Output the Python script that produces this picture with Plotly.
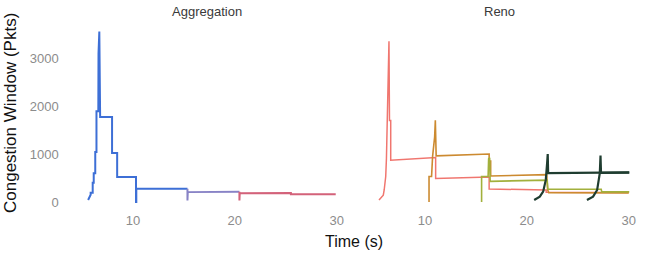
import plotly.graph_objects as go

# ---------------- data ----------------
# Aggregation panel (three colour segments of the aggregate cwnd)
agg1_t = [5.6, 5.85, 5.85, 6.05, 6.05, 6.15, 6.15, 6.3, 6.3, 6.42, 6.42, 6.6, 6.62, 6.7, 6.78,
          7.95, 7.95, 8.45, 8.45, 10.3, 10.3, 10.33, 10.33, 15.35]
agg1_v = [40, 150, 190, 190, 400, 400, 600, 600, 1040, 1040, 1890, 1890, 3100, 3550, 1770,
          1770, 1020, 1020, 520, 520, 0, 0, 275, 275]
agg2_t = [15.35, 15.35, 15.38, 15.38, 20.45]
agg2_v = [275, 30, 30, 205, 215]
agg3_t = [20.45, 20.45, 20.48, 20.48, 25.5, 25.5, 29.9]
agg3_v = [215, 30, 30, 180, 185, 160, 160]

# Reno panel: five flows
f1_t = [5.49, 5.91, 6.0, 6.15, 6.22, 6.30, 6.47, 6.52, 6.64, 6.64, 11.05, 11.05, 16.3, 16.3, 21.9, 21.9, 30.0]
f1_v = [40, 140, 250, 530, 900, 1670, 3350, 1700, 1700, 870, 925, 490, 520, 270, 250, 200, 195]
f2_t = [10.4, 10.4, 10.65, 10.75, 10.95, 11.02, 11.1, 16.3, 16.3, 16.45, 16.45, 21.95, 22.05, 22.15, 30.0]
f2_v = [0, 530, 530, 950, 1350, 1700, 960, 1000, 850, 850, 540, 570, 250, 195, 190]
f3_t = [15.56, 15.56, 16.2, 16.25, 16.35, 16.4, 22.0, 22.05, 27.3, 27.35, 30.05]
f3_v = [0, 530, 530, 900, 920, 430, 455, 265, 265, 210, 210]
f4_t = [20.72, 21.27, 21.6, 21.86, 21.99, 22.05, 22.09, 30.05]
f4_v = [40, 110, 215, 460, 810, 1000, 600, 615]
f5_t = [25.9, 26.5, 26.9, 27.09, 27.16, 27.23, 27.28, 30.05]
f5_v = [40, 110, 250, 460, 600, 965, 605, 610]

x_ticks = [10, 20, 30]
y_ticks = [0, 1000, 2000, 3000]
panel_titles = ["Aggregation", "Reno"]
x_title = "Time (s)"
y_title = "Congestion Window (Pkts)"

# ---------------- figure ----------------
W, H = 657, 253
fig = go.Figure()

def add(t, v, color, width, xa):
    fig.add_trace(go.Scatter(x=t, y=v, mode="lines", xaxis=xa, yaxis="y",
                             line=dict(color=color, width=width, shape="linear"),
                             showlegend=False, hoverinfo="skip"))

add(agg1_t, agg1_v, "#3d6fd6", 2.0, "x")
add(agg2_t, agg2_v, "#8883c6", 2.0, "x")
add(agg3_t, agg3_v, "#d3627a", 2.0, "x")

add(f1_t, f1_v, "#f0766f", 1.5, "x2")
add(f2_t, f2_v, "#cc8a30", 1.6, "x2")
add(f3_t, f3_v, "#a2b03c", 1.6, "x2")
add(f4_t, f4_v, "#1f3d30", 2.2, "x2")
add(f5_t, f5_v, "#1f3d30", 2.2, "x2")

xr = [3.4, 31.4]
yr = [-180, 3700]
px = lambda p: p / W
py = lambda p: (H - p) / H

tickfont = dict(family="Liberation Sans", size=13, color="#8c8c8c")
common_x = dict(range=xr, tickvals=x_ticks, showgrid=False, zeroline=False,
                showline=False, ticks="", tickfont=tickfont)
fig.update_layout(
    width=W, height=H, autosize=False,
    margin=dict(l=0, r=0, t=0, b=0),
    paper_bgcolor="white", plot_bgcolor="white",
    xaxis=dict(domain=[px(65.7), px(351)], anchor="y", **common_x),
    xaxis2=dict(domain=[px(357.7), px(643)], anchor="y", **common_x),
    yaxis=dict(domain=[py(210.6), py(24.4)], range=yr, tickvals=y_ticks,
               showgrid=False, zeroline=False, showline=False, ticks="",
               tickfont=tickfont, ticklabelstandoff=6),
    font=dict(family="Liberation Sans"),
)

ann = [
    dict(text=panel_titles[0], x=px(207), y=py(12), xref="paper", yref="paper",
         showarrow=False, font=dict(size=13, color="#3a3a3a"), xanchor="center", yanchor="middle"),
    dict(text=panel_titles[1], x=px(499), y=py(12), xref="paper", yref="paper",
         showarrow=False, font=dict(size=13, color="#3a3a3a"), xanchor="center", yanchor="middle"),
    dict(text=x_title, x=px(354), y=py(241), xref="paper", yref="paper",
         showarrow=False, font=dict(size=16, color="#111111"), xanchor="center", yanchor="middle"),
    dict(text=y_title, x=px(10), y=py(113), xref="paper", yref="paper", textangle=-90,
         showarrow=False, font=dict(size=17, color="#111111"), xanchor="center", yanchor="middle"),
]
fig.update_layout(annotations=ann)

fig.write_html("out.html")
